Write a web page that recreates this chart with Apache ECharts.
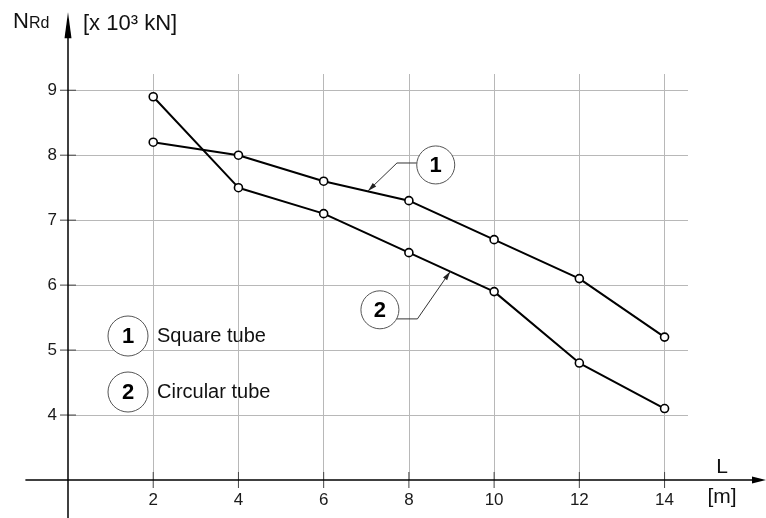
<!DOCTYPE html>
<html><head><meta charset="utf-8">
<script src="https://cdn.jsdelivr.net/npm/echarts@6/dist/echarts.min.js"></script>
<style>html,body{margin:0;padding:0;background:#fff;}#c{width:766px;height:518px;}</style>
</head><body><div id="c"></div>
<script>
// ---- data ----
const lengths = [2, 4, 6, 8, 10, 12, 14];
const squareTube = [8.2, 8.0, 7.6, 7.3, 6.7, 6.1, 5.2];
const circularTube = [8.9, 7.5, 7.1, 6.5, 5.9, 4.8, 4.1];
const xTicks = [2, 4, 6, 8, 10, 12, 14];
const yTicks = [4, 5, 6, 7, 8, 9];
const seriesLabels = ['Square tube', 'Circular tube'];
const seriesNumbers = ['1', '2'];

// ---- annotation anchors (data space) ----
const callouts = [
  { label: '1', center: [8.63, 7.85], elbow: [7.72, 7.88], tip: [7.04, 7.45] },
  { label: '2', center: [7.32, 5.62], elbow: [8.20, 5.48], tip: [8.97, 6.21] }
];

const FONT = '"Liberation Sans", Arial, sans-serif';
const chart = echarts.init(document.getElementById('c'), null, { renderer: 'canvas' });
const pair = (xs, ys) => xs.map((x, i) => [x, ys[i]]);
const lineStyle = { color: '#000', width: 2 };
const itemStyle = { color: '#fff', borderColor: '#000', borderWidth: 1.6 };
const gridColor = '#b8b8b8';

chart.setOption({
  animation: false,
  backgroundColor: '#fff',
  grid: { left: 68, top: 74, width: 620, height: 406, containLabel: false, outerBoundsMode: 'none' },
  xAxis: {
    type: 'value', min: 0, max: 14.55, interval: 2,
    axisLine: { show: false }, axisTick: { show: false },
    axisLabel: { showMinLabel: false, showMaxLabel: false, margin: 12, fontSize: 17, color: '#1a1a1a', fontFamily: FONT },
    splitLine: { show: true, showMinLine: false, showMaxLine: false, lineStyle: { color: gridColor, width: 1 } }
  },
  yAxis: {
    type: 'value', min: 3, max: 9.25, interval: 1,
    axisLine: { show: false }, axisTick: { show: false },
    axisLabel: { showMinLabel: false, showMaxLabel: false, margin: 11, fontSize: 17, color: '#1a1a1a', fontFamily: FONT },
    splitLine: { show: true, showMinLine: false, showMaxLine: false, lineStyle: { color: gridColor, width: 1 } }
  },
  series: [
    { name: seriesLabels[0], type: 'line', data: pair(lengths, squareTube), symbol: 'circle', symbolSize: 8,
      lineStyle, itemStyle, z: 5, clip: false },
    { name: seriesLabels[1], type: 'line', data: pair(lengths, circularTube), symbol: 'circle', symbolSize: 8,
      lineStyle, itemStyle, z: 5, clip: false }
  ]
});

// ---- decorations computed through the chart's own scales ----
const P = (x, y) => chart.convertToPixel({ gridIndex: 0 }, [x, y]);
const g = [];
const x0 = P(0, 3)[0], y0 = P(0, 3)[1];
// x axis line with arrow
const xStart = P(-1, 3)[0], xTip = P(16.38, 3)[0];
g.push({ type: 'line', shape: { x1: xStart, y1: y0, x2: xTip - 10, y2: y0 }, style: { stroke: '#000', lineWidth: 1.5 }, z: 10 });
g.push({ type: 'polygon', shape: { points: [[xTip, y0], [xTip - 14, y0 - 3.5], [xTip - 14, y0 + 3.5]] }, style: { fill: '#000' }, z: 10 });
// y axis line with arrow
const yTip = P(0, 10.2)[1];
g.push({ type: 'line', shape: { x1: x0, y1: 518, x2: x0, y2: yTip + 20 }, style: { stroke: '#000', lineWidth: 1.5 }, z: 10 });
g.push({ type: 'polygon', shape: { points: [[x0, yTip], [x0 - 3.5, yTip + 26], [x0 + 3.5, yTip + 26]] }, style: { fill: '#000' }, z: 10 });
// crossing ticks
xTicks.forEach(v => { const px = P(v, 3)[0];
  g.push({ type: 'line', shape: { x1: px, y1: y0 - 8, x2: px, y2: y0 + 8 }, style: { stroke: '#444', lineWidth: 1 }, z: 9 }); });
yTicks.forEach(v => { const py = P(0, v)[1];
  g.push({ type: 'line', shape: { x1: x0 - 8, y1: py, x2: x0 + 8, y2: py }, style: { stroke: '#444', lineWidth: 1 }, z: 9 }); });

// axis titles
g.push({ type: 'text', x: 13, y: 33, style: { text: '{n|N}{r|Rd}', verticalAlign: 'bottom', fill: '#111',
  rich: { n: { fontSize: 22, fontFamily: FONT, verticalAlign: 'bottom' }, r: { fontSize: 16, fontFamily: FONT, verticalAlign: 'bottom', padding: [0, 0, 1, 0] } } }, z: 10 });
g.push({ type: 'text', x: 83, y: 24, style: { text: '[x 10³ kN]', fontSize: 22, fontFamily: FONT, fill: '#111', verticalAlign: 'middle' }, z: 10 });
g.push({ type: 'text', x: 722, y: 467, style: { text: 'L', fontSize: 21, fontFamily: FONT, fill: '#111', align: 'center', verticalAlign: 'middle' }, z: 10 });
g.push({ type: 'text', x: 722, y: 497, style: { text: '[m]', fontSize: 21, fontFamily: FONT, fill: '#111', align: 'center', verticalAlign: 'middle' }, z: 10 });

// callouts
const R = 19;
function circled(cx, cy, r, label) {
  g.push({ type: 'circle', shape: { cx, cy, r }, style: { fill: '#fff', stroke: '#555', lineWidth: 1 }, z: 11 });
  g.push({ type: 'text', x: cx, y: cy + 1, style: { text: label, fontSize: 22, fontWeight: 'bold', fontFamily: FONT, fill: '#000', align: 'center', verticalAlign: 'middle' }, z: 12 });
}
callouts.forEach(c => {
  const [cx, cy] = P(c.center[0], c.center[1]);
  const [ex, ey] = P(c.elbow[0], c.elbow[1]);
  const [tx, ty] = P(c.tip[0], c.tip[1]);
  const dy = Math.max(-R + 1, Math.min(R - 1, ey - cy));
  const sx = cx + Math.sign(ex - cx) * Math.sqrt(R * R - dy * dy);
  g.push({ type: 'polyline', shape: { points: [[sx, ey], [ex, ey], [tx, ty]] }, style: { stroke: '#333', lineWidth: 1, fill: null }, z: 11 });
  const ang = Math.atan2(ty - ey, tx - ex), L = 9, W = 2.5;
  const bx = tx - L * Math.cos(ang), by = ty - L * Math.sin(ang);
  g.push({ type: 'polygon', shape: { points: [[tx, ty], [bx - W * Math.sin(ang), by + W * Math.cos(ang)], [bx + W * Math.sin(ang), by - W * Math.cos(ang)]] }, style: { fill: '#222' }, z: 11 });
  circled(cx, cy, R, c.label);
});

// legend (layout placement)
[[128, 336], [128, 392]].forEach((pos, i) => {
  g.push({ type: 'circle', shape: { cx: pos[0], cy: pos[1], r: 20 }, style: { fill: '#fff', stroke: '#555', lineWidth: 1 }, z: 11 });
  g.push({ type: 'text', x: pos[0], y: pos[1] + 1, style: { text: seriesNumbers[i], fontSize: 22, fontWeight: 'bold', fontFamily: FONT, fill: '#000', align: 'center', verticalAlign: 'middle' }, z: 12 });
  g.push({ type: 'text', x: 157, y: pos[1], style: { text: seriesLabels[i], fontSize: 20, fontFamily: FONT, fill: '#111', verticalAlign: 'middle' }, z: 12 });
});

chart.setOption({ graphic: g });
</script>
</body></html>
